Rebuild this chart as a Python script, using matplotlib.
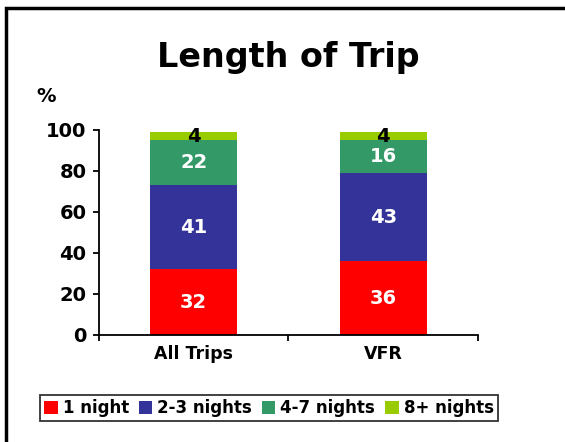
import numpy as np
import matplotlib
matplotlib.use("Agg")
import matplotlib.pyplot as plt
from matplotlib.patches import Rectangle

categories = ["All Trips", "VFR"]
series = ["1 night", "2-3 nights", "4-7 nights", "8+ nights"]
one_night = [32, 36]
two_three = [41, 43]
four_seven = [22, 16]
eight_plus = [4, 4]
colors = ["#FF0000", "#333399", "#339966", "#99CC00"]
label_colors = ["white", "white", "white", "black"]

plt.rcParams['font.family'] = 'DejaVu Sans'
plt.rcParams['font.weight'] = 'bold'

fig = plt.figure(figsize=(5.65, 4.42), dpi=100)
ax = fig.add_axes([0.1752, 0.2421, 0.6708, 0.4638])

# frame around the figure (left and top visible)
fig.patches.append(Rectangle((6 / 565, -0.1), 1.2, 1 - 8 / 442 + 0.1,
                             transform=fig.transFigure, fill=False,
                             edgecolor="black", linewidth=2.5))

x = np.arange(len(categories))
bottom = np.zeros(len(categories))
for name, vals, c, lc in zip(series, [one_night, two_three, four_seven, eight_plus],
                             colors, label_colors):
    vals = np.array(vals, dtype=float)
    ax.bar(x, vals, 0.46, bottom=bottom, color=c, label=name)
    for xi, b, v in zip(x, bottom, vals):
        ax.text(xi, b + v / 2, f"{v:.0f}", ha="center", va="center",
                color=lc, fontsize=14, fontweight="bold")
    bottom += vals

ax.set_xlim(-0.5, 1.5)
ax.set_ylim(0, 100)
ax.set_yticks(range(0, 101, 20))
ax.set_xticks([-0.5, 0.5, 1.5], minor=False)
ax.set_xticklabels(["", "", ""])
ax.set_xticks(x, minor=True)
ax.set_xticklabels(categories, minor=True, fontsize=12.5, fontweight="bold")
ax.tick_params(axis="x", which="minor", length=0, pad=7)
ax.tick_params(axis="x", which="major", length=4, width=1.3)
ax.tick_params(axis="y", labelsize=14, length=4, width=1.3, pad=5)
for lbl in ax.get_yticklabels():
    lbl.set_fontweight("bold")

ax.spines["top"].set_visible(False)
ax.spines["right"].set_visible(False)
ax.spines["left"].set_linewidth(1.3)
ax.spines["bottom"].set_linewidth(1.3)

fig.text(288 / 565, 1 - 57 / 442, "Length of Trip", ha="center", va="center",
         fontsize=24, fontweight="bold")
fig.text(46 / 565, 1 - 97 / 442, "%", ha="center", va="center",
         fontsize=14, fontweight="bold")

leg = fig.legend(loc="center", bbox_to_anchor=(269 / 565, 1 - 408 / 442), ncol=4,
                 frameon=True, fancybox=False, edgecolor="black",
                 prop={"size": 12, "weight": "bold"}, handlelength=0.8,
                 handleheight=0.8, handletextpad=0.3, columnspacing=0.6,
                 borderpad=0.25, borderaxespad=0)
leg.get_frame().set_linewidth(1.3)

fig.savefig("out.png", dpi=100)
